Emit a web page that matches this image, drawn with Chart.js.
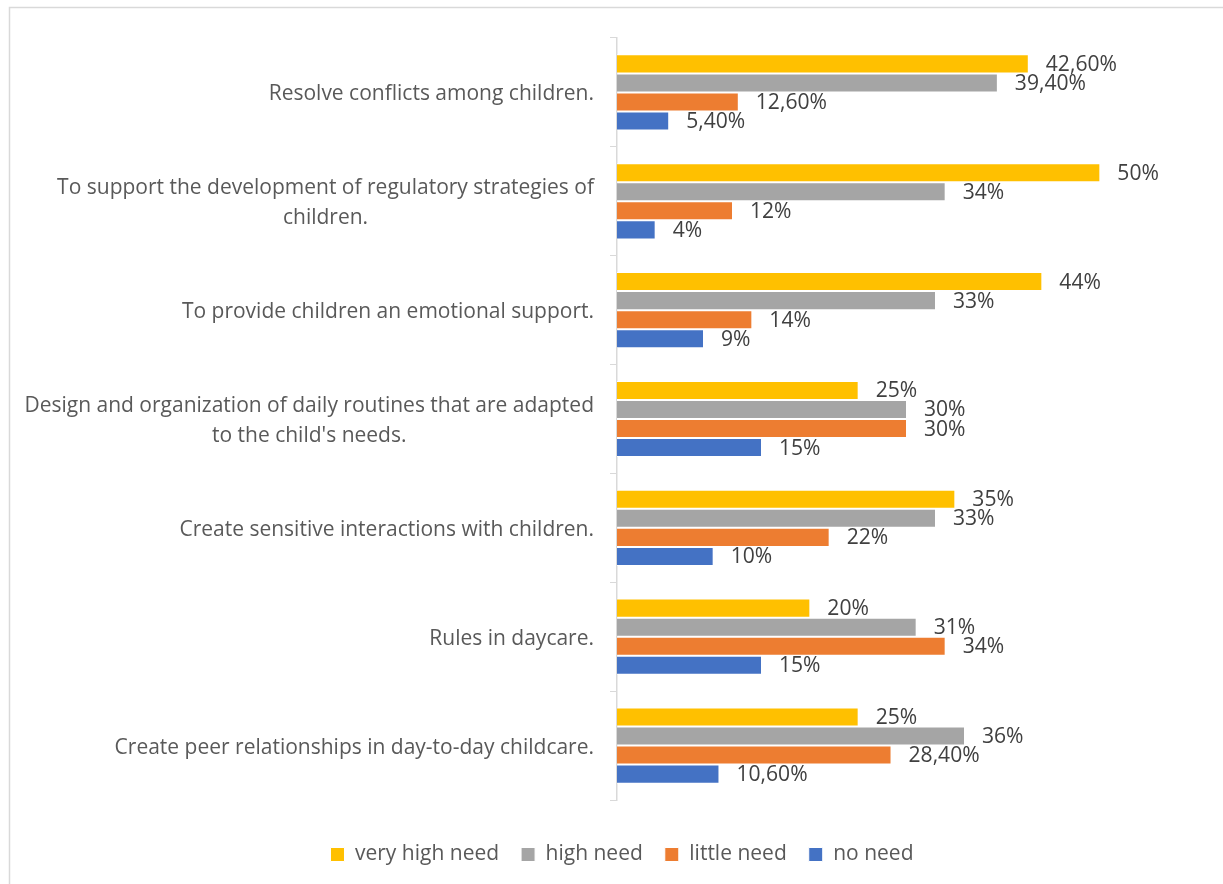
<!DOCTYPE html>
<html>
<head>
<meta charset="utf-8">
<script src="https://cdn.jsdelivr.net/npm/chart.js@4"></script>
<style>
  html, body { margin: 0; padding: 0; background: #fff; }
  #wrap { position: relative; width: 1223px; height: 884px; }
</style>
</head>
<body>
<div id="wrap"><canvas id="myChart" width="1223" height="884"></canvas></div>
<script>
const categories = [
    ["Resolve conflicts among children."],
    ["To support the development of regulatory strategies of", "children."],
    ["To provide children an emotional support."],
    ["Design and organization of daily routines that are adapted", "to the child's needs."],
    ["Create sensitive interactions with children."],
    ["Rules in daycare."],
    ["Create peer relationships in day-to-day childcare."],
];
const seriesNames = ["very high need", "high need", "little need", "no need"];
const veryHighNeed = [42.6, 50, 44, 25, 35, 20, 25];
const highNeed = [39.4, 34, 33, 30, 33, 31, 36];
const littleNeed = [12.6, 12, 14, 30, 22, 34, 28.4];
const noNeed = [5.4, 4, 9, 15, 10, 15, 10.6];
const colors = ["#FFC000", "#A5A5A5", "#ED7D31", "#4472C4"];

const FONT = "'Open Sans', 'Noto Sans', sans-serif";
const TEXT = "#595959";

const fmt = (v) => Number.isInteger(v) ? v + "%" : v.toFixed(2).replace(".", ",") + "%";

// pick a font size so that a sample string gets a given width
const sizeFor = (sample, width) => {
    const c = document.createElement("canvas").getContext("2d");
    c.font = "100px " + FONT;
    return Math.round(1000 * width / c.measureText(sample).width) / 10;
};
const catSize = sizeFor(categories[1][0], 537);
const valSize = sizeFor("42,60%", 71);
const legSize = sizeFor("very high need", 144);

// outer frame of the chart box
const framePlugin = {
    id: "frame",
    beforeDraw: (chart) => {
        const ctx = chart.ctx;
        ctx.save();
        ctx.strokeStyle = "#d9d9d9";
        ctx.lineWidth = 1.5;
        ctx.strokeRect(9.5, 7.5, chart.width + 20, chart.height + 20);
        ctx.restore();
    },
};

// category names, right-aligned block with centred lines
const categoryLabels = {
    id: "categoryLabels",
    afterDraw: (chart) => {
        const ctx = chart.ctx;
        const y = chart.scales.y;
        ctx.save();
        ctx.font = catSize + "px " + FONT;
        ctx.fillStyle = TEXT;
        ctx.textBaseline = "middle";
        ctx.textAlign = "center";
        const right = chart.chartArea.left - 23;
        const lh = 30;
        categories.forEach((lines, i) => {
            const cy = y.getPixelForTick(i) + 2;
            const w = Math.max(...lines.map((l) => ctx.measureText(l).width));
            const cx = right - w / 2;
            lines.forEach((l, k) => {
                ctx.fillText(l, cx, cy + (k - (lines.length - 1) / 2) * lh);
            });
        });
        ctx.restore();
    },
};

// value labels at the end of every bar
const valueLabels = {
    id: "valueLabels",
    afterDatasetsDraw: (chart) => {
        const ctx = chart.ctx;
        ctx.save();
        ctx.font = valSize + "px " + FONT;
        ctx.fillStyle = "#404040";
        ctx.textBaseline = "middle";
        ctx.textAlign = "left";
        chart.data.datasets.forEach((ds, di) => {
            chart.getDatasetMeta(di).data.forEach((bar, i) => {
                ctx.fillText(fmt(ds.data[i]), bar.x + 17, bar.y + 1);
            });
        });
        ctx.restore();
    },
};

const ctx = document.getElementById("myChart");
new Chart(ctx, {
    type: "bar",
    data: {
        labels: categories.map((c) => c.join(" ")),
        datasets: [veryHighNeed, highNeed, littleNeed, noNeed].map((d, i) => ({
            label: seriesNames[i],
            data: d,
            backgroundColor: colors[i],
            borderColor: "#ffffff",
            borderWidth: 1,
            borderSkipped: "start",
            categoryPercentage: 0.7,
            barPercentage: 1,
        })),
    },
    options: {
        indexAxis: "y",
        responsive: false,
        animation: false,
        layout: { padding: { top: 38, right: 26, bottom: 9, left: 47 } },
        scales: {
            x: {
                min: 0,
                max: 60,
                afterFit: (s) => { s.height = 22; },
                ticks: { display: false },
                grid: { display: false },
                border: { display: false },
            },
            y: {
                afterFit: (s) => { s.width = 570; },
                ticks: { display: false },
                grid: { drawOnChartArea: false, drawTicks: true, tickLength: 7, color: "#d9d9d9", offset: true },
                border: { display: true, color: "#d9d9d9", width: 1.5 },
            },
        },
        plugins: {
            tooltip: { enabled: false },
            legend: {
                position: "bottom",
                labels: {
                    font: { family: FONT, size: legSize },
                    color: TEXT,
                    boxWidth: 14,
                    boxHeight: 14,
                    padding: 22,
                },
            },
        },
    },
    plugins: [framePlugin, categoryLabels, valueLabels],
});
</script>
</body>
</html>
